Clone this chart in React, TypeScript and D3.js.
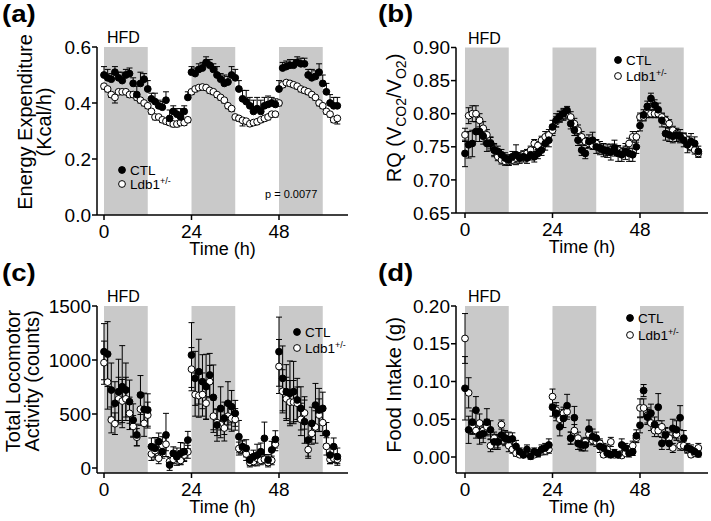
import React from 'react';
import * as d3 from 'd3';

const FONT = '"Liberation Sans", Arial, Helvetica, sans-serif';

// time grid (hours)
const hours = d3.range(0, 65);
const darkPeriods = [0, 24, 48];
const darkLength = 12;
const xTicks = [0, 24, 48];

// (a) Energy expenditure (Kcal/h)
const eeCTL = [.50,.49,.485,.51,.49,.48,.50,.505,.47,.43,.47,.485,.45,.415,.405,.39,.385,.41,.345,.37,.36,.35,.37,.42,
  .51,.505,.52,.525,.545,.535,.52,.50,.485,.47,.475,.50,.49,.45,.415,.405,.39,.37,.38,.37,.39,.395,.40,.395,
  .45,.525,.53,.535,.535,.545,.54,.54,.50,.49,.495,.51,.47,.44,.40,.39,.39];
const eeCTLerr = [.03,.03,.02,.02,.02,.03,.02,.02,.02,.03,.04,.02,.03,.02,.03,.02,.02,.03,.03,.02,.02,.03,.02,.02,
  .02,.02,.02,.02,.02,.02,.02,.03,.02,.03,.02,.03,.03,.03,.03,.04,.03,.04,.04,.04,.03,.03,.02,.02,
  .03,.02,.02,.02,.02,.02,.02,.02,.02,.03,.02,.03,.03,.03,.03,.03,.03];
const eeLdb = [.46,.45,.43,.42,.44,.44,.44,.43,.43,.42,.41,.40,.39,.37,.35,.35,.34,.335,.33,.325,.325,.33,.33,.34,
  .44,.45,.455,.457,.455,.445,.44,.43,.42,.41,.39,.38,.35,.345,.338,.335,.326,.33,.333,.34,.345,.35,.36,.36,
  .40,.465,.473,.47,.465,.46,.45,.445,.44,.43,.42,.40,.39,.37,.36,.34,.345];
const eeLdbErr = [.01,.01,.01,.02,.01,.01,.01,.01,.01,.01,.01,.01,.01,.01,.01,.01,.01,.01,.01,.01,.01,.01,.01,.01,
  .01,.01,.01,.01,.01,.01,.01,.01,.01,.01,.01,.01,.01,.01,.02,.01,.01,.01,.01,.01,.01,.01,.01,.01,
  .01,.01,.01,.01,.01,.01,.01,.01,.01,.01,.01,.01,.01,.01,.01,.01,.02];

// (b) RQ
const rqCTL = [.740,.753,.755,.773,.773,.766,.755,.755,.745,.743,.738,.733,.730,.735,.738,.733,.735,.733,.738,.735,.740,.745,.755,.760,
  .780,.790,.796,.800,.805,.785,.775,.760,.745,.740,.758,.760,.750,.748,.745,.744,.742,.748,.740,.738,.743,.740,.738,.750,
  .782,.798,.811,.823,.813,.806,.790,.770,.768,.766,.768,.766,.760,.753,.758,.755,.743];
const rqCTLerr = [.02,.02,.02,.015,.015,.012,.012,.01,.01,.008,.008,.008,.008,.008,.015,.008,.008,.008,.008,.008,.008,.008,.01,.01,
  .01,.01,.008,.008,.006,.008,.008,.008,.008,.008,.01,.012,.01,.01,.01,.01,.012,.012,.012,.01,.012,.012,.01,.01,
  .008,.008,.008,.008,.008,.01,.01,.01,.01,.01,.01,.01,.01,.012,.012,.01,.008];
const rqLdb = [.768,.797,.80,.80,.79,.778,.768,.756,.745,.735,.73,.728,.728,.73,.733,.735,.738,.74,.745,.755,.752,.76,.765,.768,
  .775,.788,.795,.798,.80,.795,.785,.775,.765,.758,.755,.752,.755,.748,.745,.743,.745,.748,.745,.742,.745,.755,.765,.765,
  .795,.795,.80,.80,.80,.80,.795,.79,.785,.775,.77,.765,.765,.76,.75,.745,.74];
const rqLdbErr = [.01,.012,.012,.012,.01,.01,.008,.008,.008,.006,.006,.006,.006,.006,.006,.006,.006,.006,.006,.006,.006,.006,.008,.008,
  .008,.008,.008,.008,.008,.008,.008,.008,.008,.006,.006,.006,.006,.006,.006,.006,.006,.006,.006,.006,.006,.008,.008,.008,
  .006,.006,.006,.006,.006,.006,.006,.006,.006,.006,.006,.006,.006,.006,.006,.006,.006];

// (c) Total locomotor activity (counts)
const actCTL = [1077,1055,722,599,707,753,722,614,444,306,676,543,537,198,182,244,151,306,28,136,105,136,151,259,
  1046,830,892,799,753,861,654,398,552,460,599,568,506,290,198,182,74,105,120,151,275,74,167,265,
  1077,830,707,691,707,630,552,429,259,413,583,537,552,321,120,198,105];
const actCTLerr = [260,300,250,200,300,380,250,200,150,100,180,150,150,80,100,80,60,200,50,60,80,100,80,80,
  300,250,300,250,300,200,300,150,200,150,200,150,120,150,60,80,50,60,100,80,150,50,80,80,
  320,300,250,300,280,200,200,200,150,150,200,200,150,100,80,80,80];
const actLdb = [975,795,445,410,640,620,640,506,385,285,545,413,490,130,160,90,210,220,60,80,100,70,120,150,
  915,680,670,680,600,800,480,420,400,370,480,460,450,180,190,130,50,60,90,70,80,50,70,220,
  940,710,640,610,610,600,450,510,170,320,380,490,420,200,80,90,80];
const actLdbErr = [200,250,120,100,200,200,200,150,100,80,150,120,120,60,60,50,80,60,40,40,40,40,60,60,
  200,200,200,200,150,150,150,120,120,120,120,120,100,60,60,60,40,40,40,40,40,40,40,60,
  250,200,200,200,200,150,150,150,80,100,150,150,120,80,40,40,40];

// (d) Food intake (g)
const foodCTL = [.091,.036,.046,.062,.029,.031,.046,.036,.020,.020,.029,.025,.023,.024,.014,.007,.003,.010,.001,.007,.005,.010,.012,.016,
  .066,.058,.040,.051,.068,.025,.052,.018,.016,.016,.037,.027,.025,.014,.012,.005,.003,.005,.003,.016,.012,.005,.007,.028,
  .042,.088,.053,.058,.043,.066,.018,.029,.018,.038,.036,.052,.025,.012,.010,.007,.004];
const foodCTLerr = [.042,.018,.015,.018,.012,.012,.018,.012,.010,.010,.012,.010,.010,.008,.008,.005,.004,.006,.004,.005,.005,.006,.006,.008,
  .012,.010,.012,.012,.015,.008,.015,.008,.008,.008,.012,.010,.008,.008,.006,.005,.004,.005,.004,.008,.006,.005,.005,.008,
  .010,.008,.010,.012,.010,.018,.008,.010,.008,.012,.012,.016,.010,.006,.006,.005,.004];
const foodLdb = [.157,.085,.040,.035,.045,.035,.040,.015,.025,.020,.043,.025,.015,.010,.005,.003,.003,.005,.003,.003,.005,.007,.008,.010,
  .080,.062,.050,.058,.060,.025,.035,.025,.015,.020,.030,.022,.020,.018,.003,.010,.020,.003,.003,.002,.005,.010,.015,.025,
  .065,.065,.055,.045,.035,.035,.040,.030,.025,.012,.030,.015,.015,.010,.003,.005,.012];
const foodLdbErr = [.033,.020,.010,.010,.012,.010,.010,.008,.008,.008,.006,.008,.008,.005,.004,.003,.003,.004,.003,.003,.004,.004,.005,.005,
  .010,.010,.010,.008,.010,.008,.008,.008,.006,.006,.008,.006,.006,.006,.003,.006,.006,.003,.003,.003,.004,.005,.006,.006,
  .012,.012,.010,.010,.008,.008,.008,.008,.008,.006,.008,.006,.006,.005,.003,.004,.006];

const seriesNames = ['CTL', 'Ldb1'];

type PanelDef = {
  tag: string;
  left: number; right: number; x0: number; x48: number;
  yTop: number; yZero: number; axisY: number;
  ticks: number[]; fmt: (v: number) => string;
  ctl: number[]; ctlErr: number[]; ldb: number[]; ldbErr: number[];
  oneSided: boolean;
  legend: [number, number, number];
  yLabel: React.ReactNode;
  pText?: [number, number];
};

const panels: PanelDef[] = [
  {
    tag: '(a)', left: 97, right: 348, x0: 104, x48: 279, yTop: 47, yZero: 215, axisY: 215,
    ticks: [0, 0.2, 0.4, 0.6], fmt: d3.format('.1f'),
    ctl: eeCTL, ctlErr: eeCTLerr, ldb: eeLdb, ldbErr: eeLdbErr, oneSided: true,
    legend: [122, 170, 14], pText: [265, 198],
    yLabel: (
      <g>
        <text transform="translate(32,122) rotate(-90)" textAnchor="middle" fontSize={20}>Energy Expenditure</text>
        <text transform="translate(51,122) rotate(-90)" textAnchor="middle" fontSize={20}>(Kcal/h)</text>
      </g>
    ),
  },
  {
    tag: '(b)', left: 456, right: 708, x0: 465, x48: 640, yTop: 47.5, yZero: 213, axisY: 213,
    ticks: [0.65, 0.70, 0.75, 0.80, 0.85, 0.90], fmt: d3.format('.2f'),
    ctl: rqCTL, ctlErr: rqCTLerr, ldb: rqLdb, ldbErr: rqLdbErr, oneSided: false,
    legend: [618, 60, 16],
    yLabel: (
      <text transform="translate(401,118) rotate(-90)" textAnchor="middle" fontSize={20}>
        RQ (V<tspan fontSize={14} dy={5}>CO2</tspan><tspan dy={-5}>/V</tspan><tspan fontSize={14} dy={5}>O2</tspan><tspan dy={-5}>)</tspan>
      </text>
    ),
  },
  {
    tag: '(c)', left: 97, right: 348, x0: 104, x48: 279, yTop: 306, yZero: 468, axisY: 473,
    ticks: [0, 500, 1000, 1500], fmt: d3.format('d'),
    ctl: actCTL, ctlErr: actCTLerr, ldb: actLdb, ldbErr: actLdbErr, oneSided: false,
    legend: [297, 332, 16],
    yLabel: (
      <g>
        <text transform="translate(20,381) rotate(-90)" textAnchor="middle" fontSize={20}>Total Locomotor</text>
        <text transform="translate(39,381) rotate(-90)" textAnchor="middle" fontSize={20}>Activity (counts)</text>
      </g>
    ),
  },
  {
    tag: '(d)', left: 456, right: 708, x0: 465, x48: 640, yTop: 306, yZero: 457, axisY: 473,
    ticks: [0, 0.05, 0.10, 0.15, 0.20], fmt: d3.format('.2f'),
    ctl: foodCTL, ctlErr: foodCTLerr, ldb: foodLdb, ldbErr: foodLdbErr, oneSided: false,
    legend: [630, 318, 17],
    yLabel: (
      <text transform="translate(401,385) rotate(-90)" textAnchor="middle" fontSize={20}>Food Intake (g)</text>
    ),
  },
];

const R = 3.4;
const CAP = 3;
const GRAY = '#c9c9c9';

function Panel({ p }: { p: PanelDef }) {
  const x = d3.scaleLinear().domain([0, 48]).range([p.x0, p.x48]);
  const y = d3.scaleLinear().domain([p.ticks[0], p.ticks[p.ticks.length - 1]]).range([p.yZero, p.yTop]);

  const bars = (vals: number[], errs: number[], dir: 'up' | 'down' | 'both', key: string) =>
    hours.map((h, i) => {
      const v = vals[i];
      const e = errs[i];
      const hi = dir === 'down' ? v : v + e;
      const lo = dir === 'up' ? v : v - e;
      const cx = x(h);
      const segs: React.ReactNode[] = [
        <line key="v" x1={cx} x2={cx} y1={y(hi)} y2={y(lo)} />,
      ];
      if (dir !== 'down') segs.push(<line key="t" x1={cx - CAP} x2={cx + CAP} y1={y(hi)} y2={y(hi)} />);
      if (dir !== 'up') segs.push(<line key="b" x1={cx - CAP} x2={cx + CAP} y1={y(lo)} y2={y(lo)} />);
      return <g key={key + i}>{segs}</g>;
    });

  const [lx, ly, ldy] = p.legend;
  const midX = (p.left + p.right) / 2;

  return (
    <g>
      {darkPeriods.map((s) => (
        <rect key={s} x={x(s)} y={p.yTop} width={x(s + darkLength) - x(s)} height={p.axisY - p.yTop} fill={GRAY} />
      ))}
      <text x={x(0) + 3} y={p.yTop - 4} fontSize={16}>HFD</text>

      <g stroke="#000" strokeWidth={1}>
        {bars(p.ldb, p.ldbErr, p.oneSided ? 'down' : 'both', 'l')}
        {bars(p.ctl, p.ctlErr, p.oneSided ? 'up' : 'both', 'c')}
      </g>
      <g>
        {hours.map((h, i) => (
          <circle key={'lo' + i} cx={x(h)} cy={y(p.ldb[i])} r={R} fill="#fff" stroke="#000" strokeWidth={1} />
        ))}
        {hours.map((h, i) => (
          <circle key={'co' + i} cx={x(h)} cy={y(p.ctl[i])} r={R} fill="#000" stroke="#000" strokeWidth={1} />
        ))}
      </g>

      {/* axes */}
      <g stroke="#000" strokeWidth={1.5} fill="none">
        <line x1={p.left} x2={p.left} y1={p.yTop} y2={p.axisY} />
        <line x1={p.left} x2={p.right} y1={p.axisY} y2={p.axisY} />
        {p.ticks.map((t) => (
          <line key={'yt' + t} x1={p.left - 5} x2={p.left} y1={y(t)} y2={y(t)} />
        ))}
        {xTicks.map((t) => (
          <line key={'xt' + t} x1={x(t)} x2={x(t)} y1={p.axisY} y2={p.axisY + 5} />
        ))}
      </g>
      {p.ticks.map((t) => (
        <text key={'yl' + t} x={p.left - 6} y={y(t)} dy="0.35em" textAnchor="end" fontSize={19}>{p.fmt(t)}</text>
      ))}
      {xTicks.map((t) => (
        <text key={'xl' + t} x={x(t)} y={p.axisY + 23} textAnchor="middle" fontSize={19}>{t}</text>
      ))}
      <text x={midX} y={p.axisY + 40} textAnchor="middle" fontSize={18}>Time (h)</text>
      {p.yLabel}

      {/* legend */}
      <circle cx={lx} cy={ly} r={R} fill="#000" stroke="#000" />
      <text x={lx + 8} y={ly + 4.5} fontSize={13.5}>{seriesNames[0]}</text>
      <circle cx={lx} cy={ly + ldy} r={R} fill="#fff" stroke="#000" />
      <text x={lx + 8} y={ly + ldy + 4.5} fontSize={13.5}>
        {seriesNames[1]}<tspan fontSize={9} dy={-5}>+/-</tspan>
      </text>

      {p.pText && (
        <text x={p.pText[0]} y={p.pText[1]} fontSize={11}>p = 0.0077</text>
      )}
    </g>
  );
}

const tagPos: [number, number][] = [[2, 22], [378, 22], [2, 281], [378, 281]];

export default function App() {
  return (
    <svg width={711} height={521} viewBox="0 0 711 521"
      style={{ position: 'absolute', left: 0, top: 0, background: '#fff' }}
      fontFamily={FONT}>
      <rect width={711} height={521} fill="#fff" />
      {panels.map((p, i) => (
        <g key={p.tag}>
          <Panel p={p} />
          <text x={tagPos[i][0]} y={tagPos[i][1]} fontSize={24} fontWeight="bold" transform={`translate(${tagPos[i][0]},0) scale(1.15,1) translate(${-tagPos[i][0]},0)`}>{p.tag}</text>
        </g>
      ))}
    </svg>
  );
}
